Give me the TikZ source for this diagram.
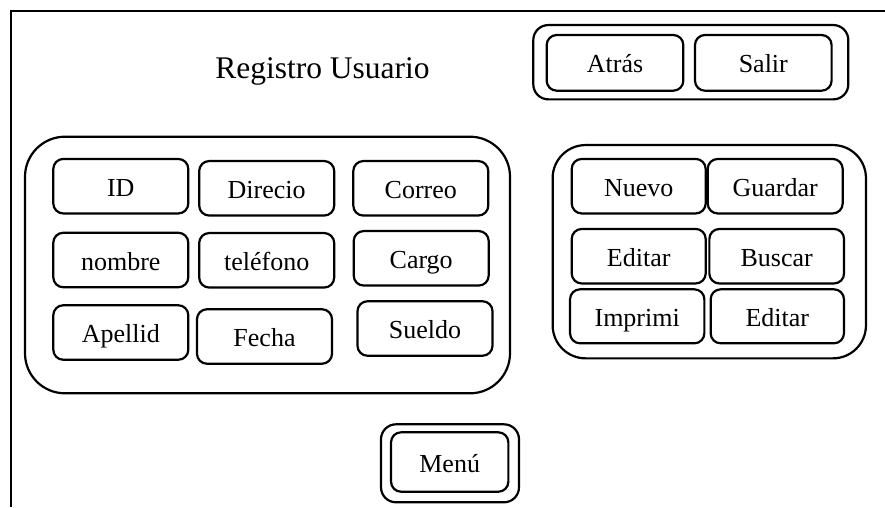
\documentclass[tikz,border=0pt]{standalone}
\usepackage{fontspec}
\setmainfont{Liberation Serif}
\begin{document}
\begin{tikzpicture}[x=1pt,y=-1pt,
  ln/.style={line width=2.2pt},
  btn/.style={draw, ln, rounded corners=10pt, inner sep=0pt,
    font=\fontsize{26}{30}\selectfont, text height=20pt, text depth=0pt,
    minimum width=135pt, minimum height=54.5pt},
  grp/.style={draw, ln, inner sep=0pt}]
\useasboundingbox (0,0) rectangle (885,507);
% frame
\coordinate (fbl) at (11,507);
\coordinate (ftl) at (11,11);
\coordinate (ftr) at (885,11);
\draw[ln] (fbl) -- (ftl) -- (ftr);
% title
\node[anchor=base, inner sep=0pt, font=\fontsize{31.5}{36}\selectfont] (title) at (322.5,78.2) {Registro Usuario};
% top-right group
\node[grp, rounded corners=15pt, minimum width=315pt, minimum height=74.3pt] (topgrp) at (690.8,62.2) {};
\node[btn, minimum width=136.6pt, minimum height=55.7pt] (atras) at (615,62.85) {Atrás};
\node[btn, minimum width=136.6pt, minimum height=55.7pt] (salir) at (763.3,62.85) {Salir};
% left group
\node[grp, rounded corners=40pt, minimum width=485pt, minimum height=256.6pt] (leftgrp) at (267.5,265) {};
\node[btn] (id) at (120.8,186.2) {ID};
\node[btn] (direcio) at (266.7,188.3) {Direcio};
\node[btn] (correo) at (420.8,188.3) {Correo};
\node[btn] (nombre) at (120.8,260) {nombre};
\node[btn] (telefono) at (266.7,260.3) {teléfono};
\node[btn] (cargo) at (421.2,258.3) {Cargo};
\node[btn] (apellid) at (120.8,332.5) {Apellid};
\node[btn] (fecha) at (264.5,336.5) {Fecha};
\node[btn] (sueldo) at (425,328.5) {Sueldo};
% right group
\node[grp, rounded corners=33pt, minimum width=313.3pt, minimum height=213.3pt] (rightgrp) at (709.3,251.7) {};
\node[btn, minimum width=134pt] (nuevo) at (638.7,186.2) {Nuevo};
\node[btn] (guardar) at (775.2,186.2) {Guardar};
\node[btn, minimum width=134pt] (editar) at (638.7,256.2) {Editar};
\node[btn, minimum width=134.7pt] (buscar) at (776.7,256.2) {Buscar};
\node[btn, minimum width=134.3pt, minimum height=54pt] (imprimi) at (637.2,316.3) {Imprimi};
\node[btn, minimum width=133.3pt, minimum height=54pt] (editardos) at (777.3,316.3) {Editar};
% menu
\node[grp, rounded corners=15pt, minimum width=138pt, minimum height=78pt] (menugrp) at (450,463.3) {};
\node[btn, minimum width=117.3pt, minimum height=59.4pt] (menu) at (449.7,462) {Menú};
\end{tikzpicture}
\end{document}
